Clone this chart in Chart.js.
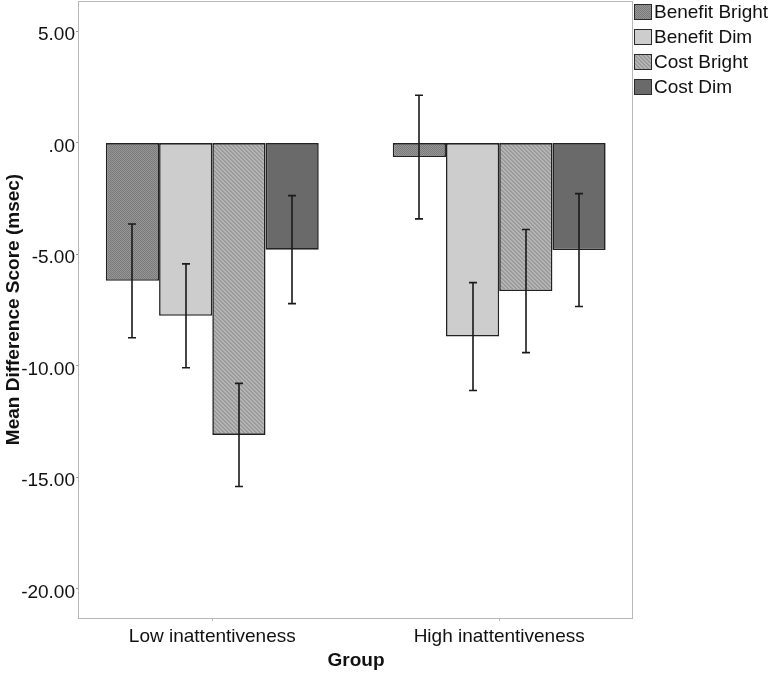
<!DOCTYPE html>
<html><head><meta charset="utf-8">
<script src="https://cdn.jsdelivr.net/npm/chart.js@4.4.1/dist/chart.umd.min.js"></script>
<style>html,body{margin:0;padding:0;background:#fff}#wrap{width:770px;height:675px}</style>
</head><body><div id="wrap"><canvas id="c"></canvas></div>
<script>
const groups = ['Low inattentiveness', 'High inattentiveness'];
const seriesNames = ['Benefit Bright', 'Benefit Dim', 'Cost Bright', 'Cost Dim'];
const benefitBright = [-6.20, -0.65];
const benefitDim = [-7.77, -8.70];
const costBright = [-13.11, -6.66];
const costDim = [-4.80, -4.82];
const benefitBrightErr = [2.55, 2.77];
const benefitDimErr = [2.33, 2.42];
const costBrightErr = [2.31, 2.76];
const costDimErr = [2.42, 2.53];
const yTicks = [5, 0, -5, -10, -15, -20];

const FONT = 'Liberation Sans';

function makePattern(kind) {
  const c = document.createElement('canvas');
  c.width = 4; c.height = 4;
  const g = c.getContext('2d');
  if (kind === 'check') {
    g.fillStyle = '#969696'; g.fillRect(0, 0, 4, 4);
    g.fillStyle = '#7a7a7a';
    g.fillRect(0, 0, 1, 1); g.fillRect(2, 0, 1, 1);
    g.fillRect(1, 1, 1, 1); g.fillRect(3, 1, 1, 1);
    g.fillRect(0, 2, 1, 1); g.fillRect(2, 2, 1, 1);
    g.fillRect(1, 3, 1, 1); g.fillRect(3, 3, 1, 1);
  } else {
    g.fillStyle = '#b6b6b6'; g.fillRect(0, 0, 4, 4);
    g.fillStyle = '#9a9a9a';
    for (let i = 0; i < 4; i++) { g.fillRect(i, i, 1, 1); g.fillRect(i, (i + 1) % 4, 1, 1); }
  }
  return document.getElementById('c').getContext('2d').createPattern(c, 'repeat');
}

const seriesValues = [benefitBright, benefitDim, costBright, costDim];
const errArrays = [benefitBrightErr, benefitDimErr, costBrightErr, costDimErr];
const fills = [makePattern('check'), '#cdcdcd', makePattern('diag'), '#6a6a6a'];

const frame = {
  id: 'frame',
  beforeDatasetsDraw(chart) {
    const a = chart.chartArea, ctx = chart.ctx;
    ctx.save();
    ctx.strokeStyle = '#b8b8b8'; ctx.lineWidth = 1;
    ctx.strokeRect(Math.round(a.left) - 0.5, Math.round(a.top) + 0.5, Math.round(a.right - a.left), Math.round(a.bottom - a.top));
    ctx.restore();
  }
};

const errorBars = {
  id: 'errorBars',
  afterDatasetsDraw(chart) {
    const ctx = chart.ctx, y = chart.scales.y;
    ctx.save();
    ctx.strokeStyle = '#1a1a1a'; ctx.lineWidth = 1.6;
    chart.data.datasets.forEach((ds, di) => {
      const meta = chart.getDatasetMeta(di);
      meta.data.forEach((bar, i) => {
        const v = ds.data[i].y, e = ds.err[i];
        const x = Math.round(bar.x);
        const yt = y.getPixelForValue(v + e), yb = y.getPixelForValue(v - e);
        ctx.beginPath();
        ctx.moveTo(x, yt); ctx.lineTo(x, yb);
        ctx.moveTo(x - 4, yt); ctx.lineTo(x + 4, yt);
        ctx.moveTo(x - 4, yb); ctx.lineTo(x + 4, yb);
        ctx.stroke();
      });
    });
    ctx.restore();
  }
};

const legendBox = {
  id: 'legendBox',
  afterDraw(chart) {
    const ctx = chart.ctx;
    const x0 = chart.chartArea.right + 1;
    ctx.save();
    ctx.font = '19px "' + FONT + '"';
    ctx.textBaseline = 'middle';
    chart.data.datasets.forEach((ds, k) => {
      const cy = 12 + 25 * k;
      ctx.fillStyle = ds.backgroundColor;
      ctx.fillRect(x0, cy - 8, 18, 16);
      ctx.strokeStyle = '#2a2a2a'; ctx.lineWidth = 1;
      ctx.strokeRect(x0 + 0.5, cy - 7.5, 17, 15);
      ctx.fillStyle = '#111';
      ctx.fillText(ds.label, x0 + 20, cy + 1);
    });
    ctx.restore();
  }
};

new Chart(document.getElementById('c'), {
  type: 'bar',
  data: {
    datasets: seriesNames.map((n, k) => ({
      label: n,
      data: seriesValues[k].map((v, i) => ({ x: i, y: v })),
      err: errArrays[k],
      backgroundColor: fills[k],
      borderColor: '#222',
      borderWidth: 1.6,
      borderSkipped: false,
      categoryPercentage: 0.742,
      barPercentage: 1
    }))
  },
  options: {
    animation: false,
    responsive: true,
    maintainAspectRatio: false,
    layout: { padding: { top: 1, right: 137, left: 0, bottom: 0 } },
    plugins: { legend: { display: false }, tooltip: { enabled: false } },
    scales: {
      x: {
        type: 'linear', min: -0.4646, max: 1.4664, offset: false,
        afterBuildTicks: s => { s.ticks = groups.map((g, i) => ({ value: i })); },
        ticks: { callback: (v, i) => groups[i], font: { family: FONT, size: 19 }, color: '#111', padding: 4, autoSkip: false, maxRotation: 0 },
        grid: { display: true, offset: false, drawOnChartArea: false, tickLength: 3, color: '#bbb' },
        border: { display: false },
        title: { display: true, text: 'Group', font: { family: FONT, size: 19, weight: 'bold' }, color: '#111', padding: { top: 0, bottom: 3 } },
        afterFit: s => { s.height = 57; s.paddingLeft = 0; s.paddingRight = 0; }
      },
      y: {
        min: -21.32, max: 6.35,
        afterBuildTicks: s => { s.ticks = yTicks.map(v => ({ value: v })); },
        ticks: { callback: v => (v === 0 ? '.00' : v.toFixed(2)), font: { family: FONT, size: 19 }, color: '#111', padding: 1, labelOffset: 4 },
        grid: { display: true, offset: false, drawOnChartArea: false, tickLength: 3, color: '#999' },
        border: { display: false },
        title: { display: true, text: 'Mean Difference Score (msec)', font: { family: FONT, size: 19, weight: 'bold' }, color: '#111', padding: { top: 2, bottom: 0 } },
        afterFit: s => { s.width = 79; s.paddingTop = 0; s.paddingBottom = 0; }
      }
    }
  },
  plugins: [frame, errorBars, legendBox]
});
</script></body></html>
